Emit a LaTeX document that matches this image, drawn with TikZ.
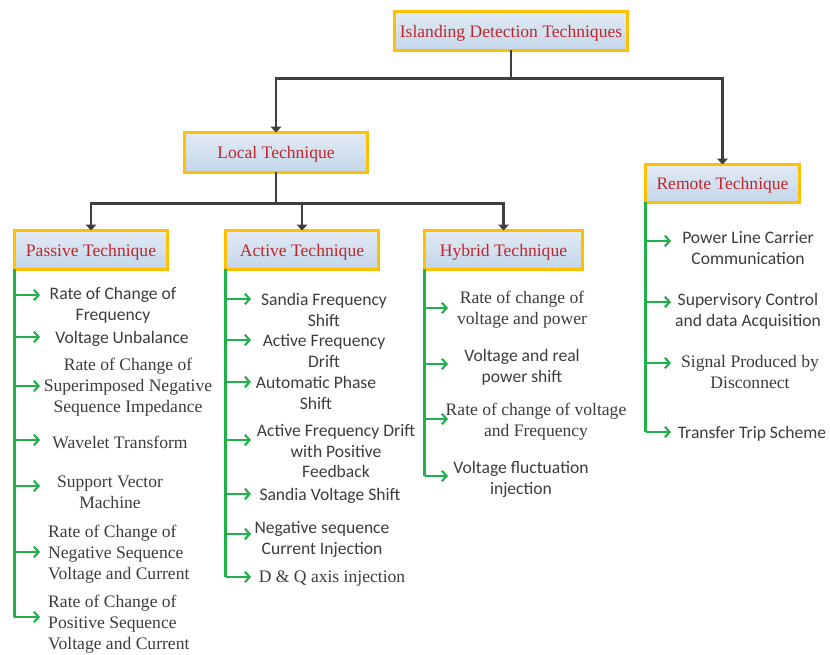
\documentclass[tikz,border=0pt]{standalone}
\usepackage{fontspec}
\setmainfont{Liberation Serif}
\newfontfamily\calib{Carlito}
\usepackage{tikz}
\usetikzlibrary{arrows.meta, positioning}
\usepackage{xcolor}
\definecolor{boxgold}{HTML}{FFC000}
\definecolor{boxtop}{HTML}{E2EBF5}
\definecolor{boxbot}{HTML}{C3D6EA}
\definecolor{titlered}{HTML}{C0272D}
\definecolor{txtgray}{HTML}{3C3C3C}
\definecolor{linkgray}{HTML}{3F3F3F}
\definecolor{branchgreen}{HTML}{22B04B}
\tikzstyle{technique} = [rectangle, draw=boxgold, line width=2.4pt, top color=boxtop, bottom color=boxbot, text=titlered, font=\fontsize{15}{18}\selectfont, outer sep=0pt, inner sep=0pt, text depth=0pt, minimum height=11.7mm]
\tikzstyle{itemsans} = [align=center, inner sep=0pt, yshift=-0.6mm, text=txtgray, font=\calib\fontsize{15}{17.9}\selectfont]
\tikzstyle{itemserif} = [align=center, inner sep=0pt, yshift=-0.6mm, text=txtgray, font=\fontsize{15}{17.9}\selectfont]
\tikzstyle{link} = [line width=2.2pt, draw=linkgray]
\tikzstyle{arrow} = [link, -{Triangle[length=5pt,width=9pt]}]
\tikzstyle{trunk} = [line width=1.8pt, draw=branchgreen]
\tikzstyle{branch} = [trunk, -{Straight Barb[length=4pt,width=9pt]}]

\begin{document}
\begin{tikzpicture}[x=0.3mm, y=-0.3mm]
        \useasboundingbox (0,0) rectangle (830,655);

        % technique boxes
        \node (isl) [technique, minimum width=69.9mm] at (511,31) {Islanding Detection Techniques};
        \node (local) [technique, minimum width=54.9mm, minimum height=12mm] at (276,152.5) {Local Technique};
        \node (remote) [technique, minimum width=46.2mm, minimum height=11.4mm] at (722.5,183.5) {Remote Technique};
        \node (passive) [technique, minimum width=45.9mm] at (91,250) {Passive Technique};
        \node (active) [technique, minimum width=45.9mm] at (302,250) {Active Technique};
        \node (hybrid) [technique, minimum width=47.4mm] at (503.5,250) {Hybrid Technique};

        \draw [link] (isl.south) -- ++(0,28) coordinate (bus1);
        \draw [arrow] (bus1) -| (local.north);
        \draw [arrow] (bus1) -| (remote.north);
        \draw [link] (local.south) -- ++(0,31) coordinate (bus2);
        \draw [arrow] (bus2) -| (passive.north);
        \draw [arrow] (bus2) -| (active.north);
        \draw [arrow] (bus2) -| (hybrid.north);

        % passive
        \node (p1) [itemsans] at (113,303.5) {Rate of Change of\\Frequency};
        \node (p2) [itemsans] at (122,337) {Voltage Unbalance};
        \node (p3) [itemserif] at (128,385) {Rate of Change of\\Superimposed Negative\\Sequence Impedance};
        \node (p4) [itemserif] at (120,440) {Wavelet Transform};
        \node (p5) [itemserif] at (110,490) {Support Vector\\Machine};
        \node (p6) [itemserif, align=left, anchor=west] at (48,552) {Rate of Change of\\Negative Sequence\\Voltage and Current};
        \node (p7) [itemserif, align=left, anchor=west] at (48,622) {Rate of Change of\\Positive Sequence\\Voltage and Current};
        \coordinate (p1t) at (40,295);
        \coordinate (p2t) at (40,337);
        \coordinate (p3t) at (40,386);
        \coordinate (p4t) at (40,440);
        \coordinate (p5t) at (40,486);
        \coordinate (p6t) at (40,552);
        \coordinate (p7t) at (40,617);
        \draw [trunk] (passive.south west) -- (passive.south west |- p7t);
        \draw [branch] (passive.south west |- p1t) -- (p1t);
        \draw [branch] (passive.south west |- p2t) -- (p2t);
        \draw [branch] (passive.south west |- p3t) -- (p3t);
        \draw [branch] (passive.south west |- p4t) -- (p4t);
        \draw [branch] (passive.south west |- p5t) -- (p5t);
        \draw [branch] (passive.south west |- p6t) -- (p6t);
        \draw [branch] (passive.south west |- p7t) -- (p7t);

        % active
        \node (a1) [itemsans] at (324,308) {Sandia Frequency\\Shift};
        \node (a2) [itemsans] at (324,349) {Active Frequency\\Drift};
        \node (a3) [itemsans] at (316,391) {Automatic Phase\\Shift};
        \node (a4) [itemsans] at (336,449) {Active Frequency Drift\\with Positive\\Feedback};
        \node (a5) [itemsans] at (330,494) {Sandia Voltage Shift};
        \node (a6) [itemsans] at (322,537) {Negative sequence\\Current Injection};
        \node (a7) [itemserif] at (332,577) {D \& Q axis injection};
        \coordinate (a1t) at (251,299);
        \coordinate (a2t) at (251,340);
        \coordinate (a3t) at (251,382);
        \coordinate (a4t) at (251,440);
        \coordinate (a5t) at (251,494);
        \coordinate (a6t) at (251,534);
        \coordinate (a7t) at (251,577);
        \draw [trunk] (active.south west) -- (active.south west |- a7t);
        \draw [branch] (active.south west |- a1t) -- (a1t);
        \draw [branch] (active.south west |- a2t) -- (a2t);
        \draw [branch] (active.south west |- a3t) -- (a3t);
        \draw [branch] (active.south west |- a4t) -- (a4t);
        \draw [branch] (active.south west |- a5t) -- (a5t);
        \draw [branch] (active.south west |- a6t) -- (a6t);
        \draw [branch] (active.south west |- a7t) -- (a7t);

        % hybrid
        \node (h1) [itemserif] at (522,308) {Rate of change of\\voltage and power};
        \node (h2) [itemsans] at (522,365) {Voltage and real\\power shift};
        \node (h3) [itemserif] at (536,420) {Rate of change of voltage\\and Frequency};
        \node (h4) [itemsans] at (521,477) {Voltage fluctuation\\injection};
        \coordinate (h1t) at (448,308);
        \coordinate (h2t) at (448,364);
        \coordinate (h3t) at (448,419);
        \coordinate (h4t) at (448,476);
        \draw [trunk] (hybrid.south west) -- (hybrid.south west |- h4t);
        \draw [branch] (hybrid.south west |- h1t) -- (h1t);
        \draw [branch] (hybrid.south west |- h2t) -- (h2t);
        \draw [branch] (hybrid.south west |- h3t) -- (h3t);
        \draw [branch] (hybrid.south west |- h4t) -- (h4t);

        % remote
        \node (r1) [itemsans] at (748,246) {Power Line Carrier\\Communication};
        \node (r2) [itemsans] at (748,309) {Supervisory Control\\and data Acquisition};
        \node (r3) [itemserif] at (750,370) {Signal Produced by\\Disconnect};
        \node (r4) [itemsans] at (752,432) {Transfer Trip Scheme};
        \coordinate (r1t) at (671,241);
        \coordinate (r2t) at (671,302);
        \coordinate (r3t) at (671,363);
        \coordinate (r4t) at (671,432);
        \draw [trunk] (remote.south west) -- (remote.south west |- r4t);
        \draw [branch] (remote.south west |- r1t) -- (r1t);
        \draw [branch] (remote.south west |- r2t) -- (r2t);
        \draw [branch] (remote.south west |- r3t) -- (r3t);
        \draw [branch] (remote.south west |- r4t) -- (r4t);
    \end{tikzpicture}
\end{document}
